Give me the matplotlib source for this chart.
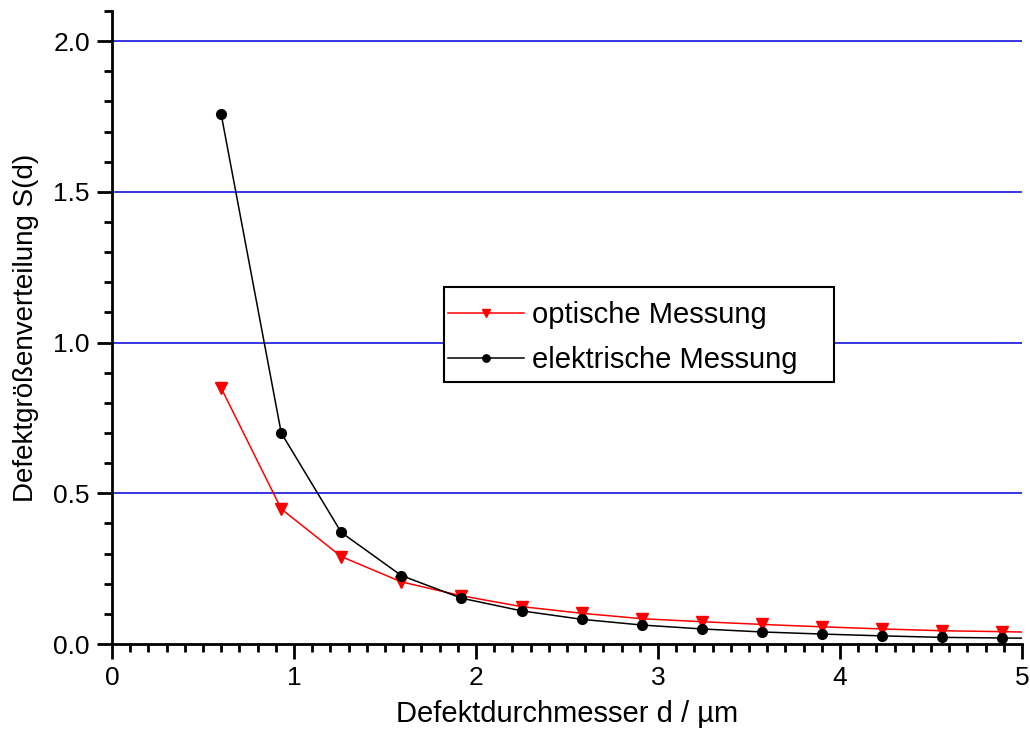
import matplotlib
matplotlib.use("Agg")
import matplotlib.pyplot as plt
from matplotlib.ticker import MultipleLocator
from matplotlib.patches import Rectangle

plt.rcParams['font.family'] = ['Liberation Sans', 'DejaVu Sans']

d = [0.60, 0.93, 1.26, 1.59, 1.92, 2.25, 2.58, 2.91, 3.24, 3.57, 3.90, 4.23, 4.56, 4.89, 5.22]
optisch = [0.849, 0.448, 0.290, 0.206, 0.160, 0.124, 0.102, 0.084, 0.074, 0.065, 0.057, 0.050, 0.044, 0.041, 0.037]
elektrisch = [1.757, 0.700, 0.370, 0.227, 0.152, 0.110, 0.082, 0.063, 0.050, 0.040, 0.033, 0.027, 0.022, 0.020, 0.018]

labels = ["optische Messung", "elektrische Messung"]
xlabel = "Defektdurchmesser d / µm"
ylabel = "Defektgrößenverteilung S(d)"

W, H = 1030, 736
fig = plt.figure(figsize=(W/100, H/100), dpi=100)
ax = fig.add_axes([112/W, (H-644)/H, (1022-112)/W, (644-11)/H])

ax.plot(d, optisch, color='red', lw=1.1, marker='v', ms=8, label=labels[0], zorder=3)
ax.plot(d, elektrisch, color='black', lw=1.1, marker='o', ms=7, label=labels[1], zorder=4)

ax.set_xlim(0, 5)
ax.set_ylim(0, 2.1)
ax.xaxis.set_major_locator(MultipleLocator(1))
ax.xaxis.set_minor_locator(MultipleLocator(0.1))
ax.yaxis.set_major_locator(MultipleLocator(0.5))
ax.yaxis.set_minor_locator(MultipleLocator(0.1))
ax.yaxis.set_major_formatter(matplotlib.ticker.FormatStrFormatter('%.1f'))

for y in [0.5, 1.0, 1.5, 2.0]:
    ax.axhline(y, color='#0000dd', lw=1.1, zorder=1)

for s in ['top', 'right']:
    ax.spines[s].set_visible(False)
for s in ['left', 'bottom']:
    ax.spines[s].set_linewidth(2)

ax.tick_params(which='major', direction='out', length=11, width=2, labelsize=19, pad=5)
ax.tick_params(which='minor', direction='out', length=6, width=2)

ax.set_xlabel(xlabel, fontsize=21, labelpad=7)
ax.set_ylabel(ylabel, fontsize=20, labelpad=10)

# legend frame drawn separately (wider right padding as in the reference)
frame = Rectangle((444/W, (H-382)/H), (834-444)/W, (382-287)/H, transform=fig.transFigure,
                  facecolor='white', edgecolor='black', lw=1.5, zorder=5)
ax.add_patch(frame)
frame.set_clip_on(False)

leg = ax.legend(loc='upper left', bbox_to_anchor=(448/W, (H-301)/H), bbox_transform=fig.transFigure,
                fontsize=21, frameon=False,
                handlelength=2.6, markerscale=0.75, borderpad=0, labelspacing=0.58,
                handletextpad=0.28, borderaxespad=0)
leg.set_zorder(6)

fig.savefig("out.png", dpi=100)
